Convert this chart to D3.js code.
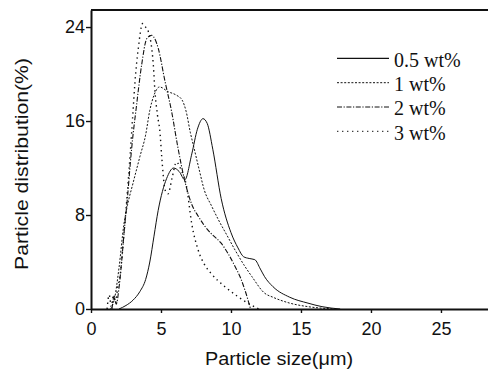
<!DOCTYPE html>
<html><head><meta charset="utf-8">
<script src="https://cdn.jsdelivr.net/npm/d3@7/dist/d3.min.js"></script>
<style>body{margin:0;background:#fff}svg{display:block}</style>
</head><body>
<svg id="c" width="488" height="369"></svg>
<script>
// ---- data ----
const seriesNames = ["0.5 wt%", "1 wt%", "2 wt%", "3 wt%"];
const xTicks = [0, 5, 10, 15, 20, 25];
const yTicks = [0, 8, 16, 24];

const size05 = [2.0, 2.5, 3.0, 3.5, 3.9, 4.2, 4.5, 4.8, 5.1, 5.4, 5.9, 6.3, 6.7, 7.2, 7.6, 8.0, 8.3, 8.7, 9.3, 10.0, 10.5, 10.9, 11.3, 11.7, 12.1, 12.4, 13.0, 14.2, 15.5, 16.5, 17.8];
const dist05 = [0, 0.3, 0.75, 1.5, 2.5, 4.0, 6.2, 8.4, 10.0, 11.1, 12.0, 11.7, 11.0, 13.2, 15.3, 16.2, 15.8, 13.6, 9.4, 6.5, 5.2, 4.45, 4.3, 4.2, 3.4, 2.75, 1.9, 1.0, 0.5, 0.2, 0];

const size1 = [1.4, 1.7, 2.0, 2.35, 2.6, 3.0, 3.5, 3.9, 4.2, 4.5, 4.9, 5.5, 6.1, 6.5, 6.8, 7.1, 7.3, 7.7, 8.1, 8.6, 9.1, 9.7, 10.3, 10.9, 11.5, 12.4, 13.0, 14.2, 15.5, 17.5];
const dist1 = [0, 1.0, 3.5, 7.2, 8.8, 10.7, 13.0, 14.8, 16.9, 18.2, 18.9, 18.5, 18.2, 17.8, 16.8, 15.0, 14.0, 12.0, 10.1, 8.8, 7.6, 6.3, 5.0, 3.8, 2.75, 1.35, 1.0, 0.5, 0.2, 0];

const size2 = [1.5, 1.65, 1.8, 2.0, 2.2, 2.4, 2.6, 2.8, 3.0, 3.2, 3.62, 3.98, 4.33, 4.6, 4.8, 5.3, 5.76, 6.2, 6.7, 7.2, 7.66, 8.1, 8.6, 9.3, 9.8, 10.3, 10.7, 11.0, 11.4];
const dist2 = [0, 1.1, 0.4, 1.8, 4.2, 7.0, 9.4, 12.3, 14.8, 16.8, 20.8, 23.0, 23.3, 22.9, 22.2, 19.3, 16.8, 13.8, 10.9, 8.9, 7.9, 7.1, 6.4, 5.6, 4.7, 3.6, 2.6, 1.6, 0];

const size3 = [1.15, 1.3, 1.45, 1.6, 1.75, 1.9, 2.07, 2.3, 2.55, 2.8, 3.0, 3.14, 3.38, 3.69, 3.9, 4.1, 4.45, 4.57, 4.75, 4.93, 5.05, 5.3, 5.5, 5.8, 6.1, 6.45, 6.83, 7.19, 7.66, 8.1, 8.6, 9.57, 10.5, 11.2, 12.0];
const dist3 = [0, 1.2, 0.2, 1.1, 0.5, 1.8, 2.75, 5.6, 9.2, 13.2, 16.8, 19.3, 22.2, 24.3, 24.0, 23.6, 20.8, 18.5, 16.5, 15.0, 13.0, 10.1, 9.8, 11.2, 12.5, 11.8, 10.4, 7.3, 5.0, 3.8, 3.0, 1.9, 1.05, 0.5, 0];

const sizes = [size05, size1, size2, size3];
const dists = [dist05, dist1, dist2, dist3];

// ---- styles ----
const dashes = [null, "2,1.6", "5,1.6,1.2,1.6", "1.4,3.6"];
const widths = [1.0, 1.0, 1.1, 1.4];
const ink = "#111";

const svg = d3.select("#c");
const x = d3.scaleLinear().domain([0, 28.36]).range([91, 488]);
const y = d3.scaleLinear().domain([0, 25.45]).range([309, 10]);

// curves
const line = d3.line().x(d => x(d[0])).y(d => y(d[1])).curve(d3.curveMonotoneX);
sizes.forEach((s, i) => {
  const pts = s.map((v, k) => [v, dists[i][k]]);
  svg.append("path").attr("d", line(pts)).attr("fill", "none")
    .attr("stroke", ink).attr("stroke-width", widths[i])
    .attr("stroke-dasharray", dashes[i]);
});

// axes
const fontSans = "'Liberation Sans', Arial, Helvetica, sans-serif";
const ax = svg.append("g").attr("transform", `translate(0,${y(0)})`)
  .call(d3.axisBottom(x).tickValues(xTicks).tickSize(4).tickSizeOuter(0).tickPadding(9).tickFormat(d3.format("d")));
const ay = svg.append("g").attr("transform", `translate(${x(0)},0)`)
  .call(d3.axisLeft(y).tickValues(yTicks).tickSize(5).tickSizeOuter(0).tickPadding(1).tickFormat(d3.format("d")));
[ax, ay].forEach(g => {
  g.select(".domain").attr("stroke", ink).attr("stroke-width", 2);
  g.selectAll(".tick line").attr("stroke", ink).attr("stroke-width", 1.4);
  g.selectAll(".tick text").attr("fill", ink).style("font-family", fontSans).style("font-size", "18px");
});
// top frame line
svg.append("line").attr("x1", x(0)).attr("x2", x(28.36)).attr("y1", y(25.45)).attr("y2", y(25.45))
  .attr("stroke", ink).attr("stroke-width", 2);

// axis titles
svg.append("text").attr("x", 279).attr("y", 365).attr("text-anchor", "middle")
  .style("font-family", fontSans).style("font-size", "17.5px").attr("fill", ink)
  .attr("textLength", 148).attr("lengthAdjust", "spacingAndGlyphs")
  .text("Particle size(\u03bcm)");
svg.append("text").attr("transform", "translate(28,164) rotate(-90)").attr("text-anchor", "middle")
  .style("font-family", fontSans).style("font-size", "19px").attr("fill", ink)
  .attr("textLength", 212).attr("lengthAdjust", "spacingAndGlyphs")
  .text("Particle distribution(%)");

// legend
const lg = svg.append("g");
seriesNames.forEach((n, i) => {
  const base = 66.7 + i * 24.3;
  lg.append("line").attr("x1", 337).attr("x2", 389).attr("y1", base - 8.3).attr("y2", base - 8.3)
    .attr("stroke", ink).attr("stroke-width", i === 0 ? 1.4 : 1.0).attr("stroke-dasharray", dashes[i]);
  lg.append("text").attr("x", 394).attr("y", base)
    .style("font-family", "'Liberation Serif', 'Times New Roman', serif").style("font-size", "20px")
    .attr("fill", ink).text(n);
});
</script>
</body></html>
